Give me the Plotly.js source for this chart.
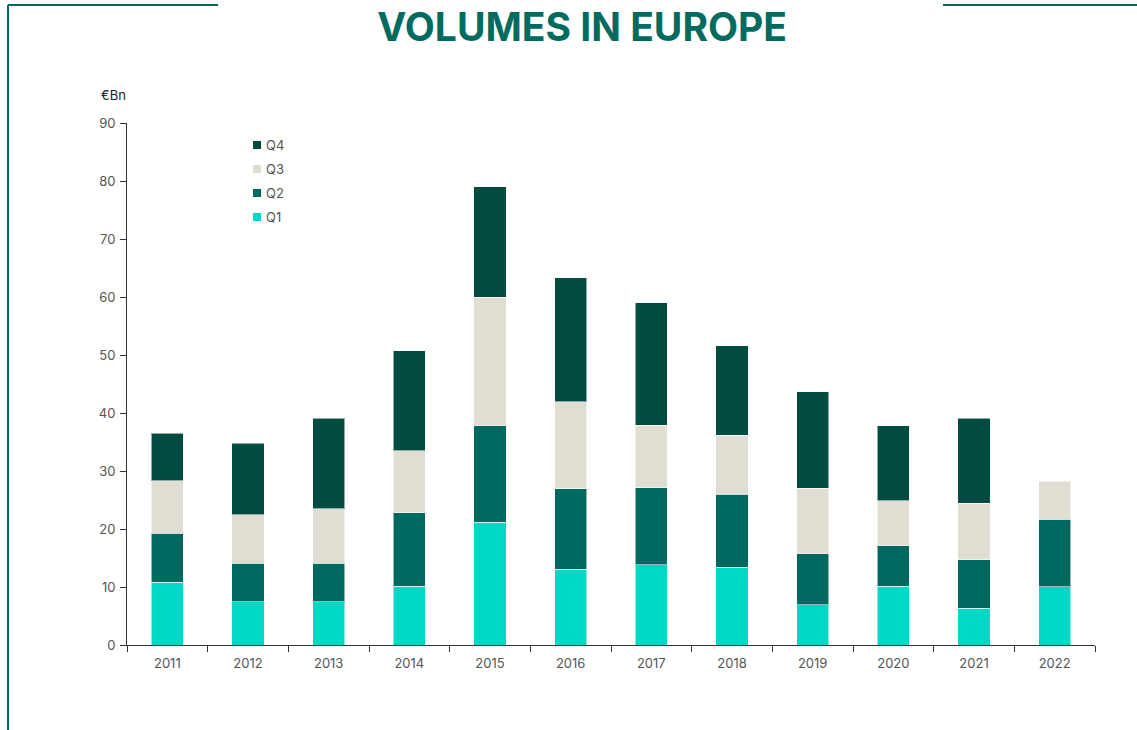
<!DOCTYPE html>
<html>
<head>
<meta charset="utf-8">
<script src="https://cdn.plot.ly/plotly-3.0.1.min.js"></script>
<style>html,body{margin:0;padding:0;background:#fff;}#chart{width:1137px;height:730px;}</style>
</head>
<body>
<div id="chart"></div>
<script>
const years = ['2011','2012','2013','2014','2015','2016','2017','2018','2019','2020','2021','2022'];
const q1 = [10.8, 7.5, 7.5, 10.1, 21.2, 13.1, 13.8, 13.4, 6.9, 10.1, 6.3, 10.05];
const q2 = [8.45, 6.6, 6.6, 12.7, 16.6, 13.8, 13.3, 12.6, 8.85, 7.0, 8.4, 11.65];
const q3 = [9.05, 8.4, 9.4, 10.7, 22.2, 15.0, 10.8, 10.2, 11.25, 7.8, 9.7, 6.5];
const q4 = [8.2, 12.3, 15.6, 17.2, 19.0, 21.4, 21.1, 15.4, 16.7, 12.9, 14.7, null];
const seriesNames = ['Q1','Q2','Q3','Q4'];
const legendOrder = ['Q4','Q3','Q2','Q1'];
const yTicks = [0,10,20,30,40,50,60,70,80,90];

const colors = {Q1:'#00D8C6', Q2:'#00695F', Q3:'#E0DDD3', Q4:'#014B40'};
const font = 'Inter, "Open Sans", sans-serif';

function bar(name, vals){
  return {type:'bar', name:name, x:years, y:vals, width:0.4, showlegend:false,
    marker:{color:colors[name], line:{color:'rgba(255,255,255,0.55)', width:1}},
    hoverinfo:'x+y+name'};
}
const data = [bar('Q1',q1), bar('Q2',q2), bar('Q3',q3), bar('Q4',q4)];

// custom legend (paper coordinates)
const legX = 0.1302, legW = 0.0083, legTop = 0.9579, legStep = 0.046, legH = 0.0153;
const shapes = [];
const annotations = [{text:'€Bn', xref:'paper', yref:'paper', x:-0.029, y:1.054, xanchor:'left', yanchor:'middle',
    showarrow:false, font:{size:13, color:'#222'}}];
legendOrder.forEach((n,i)=>{
  const yc = legTop - i*legStep;
  shapes.push({type:'rect', xref:'paper', yref:'paper', x0:legX, x1:legX+legW, y0:yc-legH/2, y1:yc+legH/2,
    fillcolor:colors[n], line:{width:0}});
  annotations.push({text:n, xref:'paper', yref:'paper', x:legX+legW+0.003, y:yc, xanchor:'left', yanchor:'middle',
    showarrow:false, font:{size:13, color:'#555'}});
});

const frameColor = '#00695F';
shapes.push(
  {type:'line', xref:'paper', yref:'paper', x0:-0.1229, x1:-0.1229, y0:1.226, y1:-0.17, line:{color:frameColor, width:2}},
  {type:'line', xref:'paper', yref:'paper', x0:-0.1229, x1:0.094, y0:1.226, y1:1.226, line:{color:frameColor, width:2}},
  {type:'line', xref:'paper', yref:'paper', x0:0.843, x1:1.05, y0:1.226, y1:1.226, line:{color:frameColor, width:2}}
);

const layout = {
  width:1137, height:730,
  margin:{l:127, r:42, t:123, b:85},
  paper_bgcolor:'#fff', plot_bgcolor:'#fff',
  barmode:'stack',
  font:{family:font, color:'#555', size:13},
  title:{text:'<b>VOLUMES IN EUROPE</b>', x:0.512, xanchor:'center', y:0.962, yanchor:'middle', yref:'container',
    font:{family:font, size:39, color:'#006B5E'}},
  xaxis:{type:'category', showline:true, linecolor:'#333', linewidth:1, ticks:'outside', tickson:'boundaries',
    ticklen:6, tickcolor:'#333', showgrid:false, zeroline:false, ticklabelstandoff:6, tickfont:{size:13, color:'#555'}},
  yaxis:{range:[0,90], tickvals:yTicks, showline:true, linecolor:'#333', linewidth:1, ticks:'outside', ticklen:6,
    tickcolor:'#333', showgrid:false, zeroline:false, ticklabelstandoff:2, tickfont:{size:13, color:'#555'}},
  showlegend:false,
  annotations:annotations,
  shapes:shapes
};
Plotly.newPlot('chart', data, layout, {displayModeBar:false});
</script>
</body>
</html>
